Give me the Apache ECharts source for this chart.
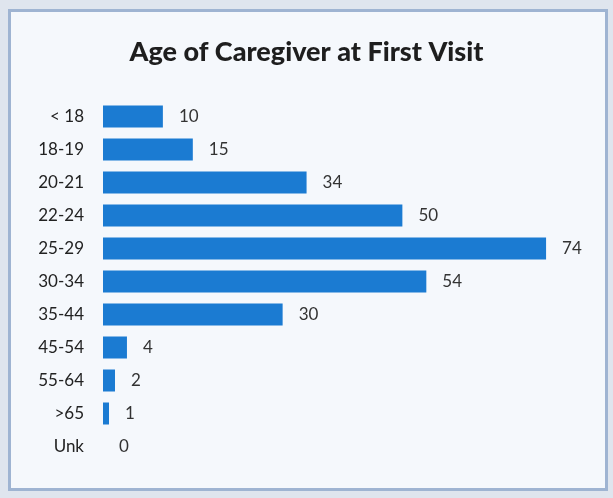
<!DOCTYPE html>
<html>
<head>
<meta charset="utf-8">
<script src="https://cdn.jsdelivr.net/npm/echarts@6/dist/echarts.min.js"></script>
<style>
html,body{margin:0;padding:0;background:#dfe5ee;}
#chart{width:613px;height:498px;}
</style>
</head>
<body>
<div id="chart"></div>
<script>
var titleText = 'Age of Caregiver at First Visit';
var categories = ['< 18','18-19','20-21','22-24','25-29','30-34','35-44','45-54','55-64','>65','Unk'];
var values = [10,15,34,50,74,54,30,4,2,1,0];

var chart = echarts.init(document.getElementById('chart'), null, {renderer:'canvas'});
chart.setOption({
  backgroundColor: '#dfe5ee',
  animation: false,
  graphic: [{
    type: 'rect',
    shape: {x: 9.5, y: 10.5, width: 597, height: 479},
    style: {fill: '#f5f8fc', stroke: '#9fb4d2', lineWidth: 3},
    z: -10
  }],
  title: {
    text: titleText,
    left: 'center',
    top: 34,
    textStyle: {fontFamily: 'Lato', fontWeight: 900, fontSize: 27, color: '#1e1e1e'}
  },
  grid: {left: 103, right: 31, top: 100, bottom: 35},
  xAxis: {type: 'value', min: 0, max: 80, show: false},
  yAxis: {
    type: 'category',
    data: categories,
    inverse: true,
    axisLine: {show: false},
    axisTick: {show: false},
    axisLabel: {margin: 19, fontFamily: 'Lato', fontSize: 17, color: '#222'}
  },
  series: [{
    type: 'bar',
    data: values,
    barWidth: 22,
    itemStyle: {color: '#1b7bd2'},
    label: {show: true, position: 'right', distance: 16, fontFamily: 'Lato', fontSize: 17, color: '#333'}
  }]
});
</script>
</body>
</html>
